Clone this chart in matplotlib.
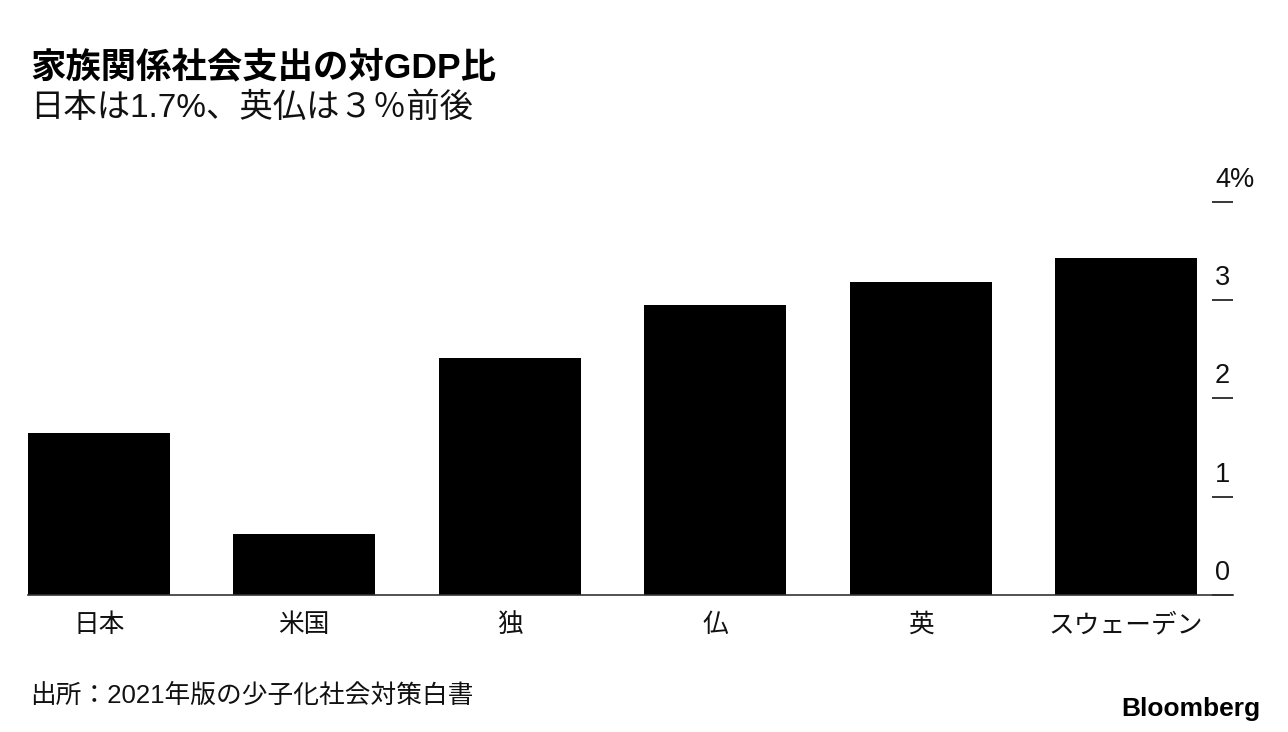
import matplotlib
matplotlib.use("Agg")
import matplotlib.pyplot as plt
from matplotlib.transforms import ScaledTranslation

plt.rcParams['font.family'] = ['Liberation Sans', 'Noto Sans CJK JP', 'DejaVu Sans']

categories = ["日本", "米国", "独", "仏", "英", "スウェーデン"]
values = [1.65, 0.62, 2.41, 2.95, 3.18, 3.43]
yticks = [0, 1, 2, 3, 4]
ytick_labels = ["0", "1", "2", "3", "4%"]

title = "家族関係社会支出の対GDP比"
subtitle = "日本は1.7%、英仏は３％前後"
source = "出所：2021年版の少子化社会対策白書"

W, H = 1288, 732
fig = plt.figure(figsize=(W / 100, H / 100), dpi=100)
left, right, bottom, top = 28, 1233, 595, 201.7
ax = fig.add_axes([left / W, 1 - bottom / H, (right - left) / W, (bottom - top) / H])

x = list(range(len(categories)))
ax.bar(x, values, width=0.69, color="black", edgecolor="none", zorder=2)
ax.set_xlim(-0.345, 5.52)
ax.set_ylim(0, 4)

for s in ["top", "left", "right"]:
    ax.spines[s].set_visible(False)
ax.spines["bottom"].set_color("#333333")
ax.spines["bottom"].set_linewidth(1.2)
ax.spines["bottom"].set_zorder(3)

ax.set_xticks(x)
ax.set_xticklabels(categories, fontsize=18.5, color="#111111")
ax.tick_params(axis="x", length=0, pad=13)

ax.yaxis.tick_right()
ax.set_yticks(yticks)
ax.set_yticklabels(ytick_labels, fontsize=19.5, color="#111111")
ax.tick_params(axis="y", direction="in", length=15, width=1.1, color="black", pad=-13)
off = ScaledTranslation(0, 15 / 100, fig.dpi_scale_trans)
for lab in ax.get_yticklabels():
    lab.set_va("baseline")
    lab.set_ha("left")
    lab.set_transform(lab.get_transform() + off)

fig.text(30 / W, 1 - 77 / H, title, fontsize=25.5, fontweight="bold", color="black",
         ha="left", va="baseline")
fig.text(30 / W, 1 - 117 / H, subtitle, fontsize=24, color="#111111",
         ha="left", va="baseline")
fig.text(30 / W, 1 - 703 / H, source, fontsize=18.5, color="#111111",
         ha="left", va="baseline")
fig.text(1260 / W, 1 - 716 / H, "Bloomberg", fontsize=19, fontweight="bold",
         color="black", ha="right", va="baseline")

fig.savefig("out.png", dpi=100)
